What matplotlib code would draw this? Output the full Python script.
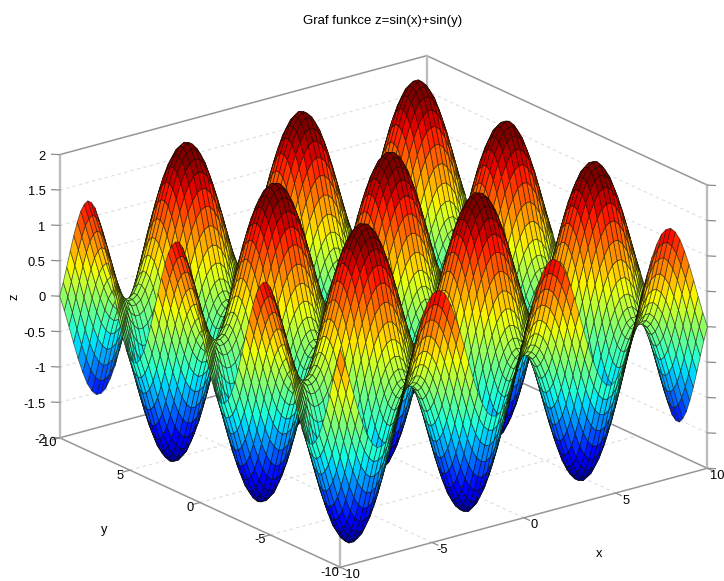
import numpy as np
import matplotlib
matplotlib.use('Agg')
import matplotlib.pyplot as plt
from mpl_toolkits.mplot3d import proj3d

plt.rcParams['font.family'] = ['Liberation Sans', 'DejaVu Sans']

# surface height along one edge, one value per mesh line from -10 to 10
grid_lines = [-10 + 0.25 * i for i in range(81)]
edge_profile = [
    0.54, 0.32, 0.08, -0.17, -0.41, -0.62, -0.80, -0.92, -0.99, -0.99,
    -0.94, -0.82, -0.66, -0.45, -0.22, 0.03, 0.28, 0.51, 0.71, 0.86,
    0.96, 1.00, 0.98, 0.90, 0.76, 0.57, 0.35, 0.11, -0.14, -0.38,
    -0.60, -0.78, -0.91, -0.98, -1.00, -0.95, -0.84, -0.68, -0.48, -0.25,
    0.00, 0.25, 0.48, 0.68, 0.84, 0.95, 1.00, 0.98, 0.91, 0.78,
    0.60, 0.38, 0.14, -0.11, -0.35, -0.57, -0.76, -0.90, -0.98, -1.00,
    -0.96, -0.86, -0.71, -0.51, -0.28, -0.03, 0.22, 0.45, 0.66, 0.82,
    0.94, 0.99, 0.99, 0.92, 0.80, 0.62, 0.41, 0.17, -0.08, -0.32,
    -0.54,
]
xy_ticks = [-10, -5, 0, 5, 10]
z_ticks = [-2, -1.5, -1, -0.5, 0, 0.5, 1, 1.5, 2]
z_tick_labels = ['-2', '-1.5', '-1', '-0.5', '0', '0.5', '1', '1.5', '2']

W, H = 724, 581
FS = 9.3
fig = plt.figure(figsize=(W / 100, H / 100), dpi=100)
ax = fig.add_axes([24.6 / W, -89.4 / H, 699 / W, 699 / H], projection='3d',
                  proj_type='ortho', computed_zorder=False)
ax.set_box_aspect((1, 1, 0.655))
ax.view_init(elev=20.65, azim=-127.4)
ax.set_xlim(-10, 10, view_margin=0)
ax.set_ylim(-10, 10, view_margin=0)
ax.set_zlim(-2, 2, view_margin=0)
ax.set_axis_off()


def label_at(x, y, z, s, **kw):
    u, v, _ = proj3d.proj_transform(x, y, z, ax.get_proj())
    ax.text2D(u, v, s, transform=ax.transData, fontsize=FS, va='center', **kw)


X, Y = np.meshgrid(grid_lines, grid_lines)
Z = np.add.outer(edge_profile, edge_profile)

# walls and floor grid, all behind the surface
grid_style = dict(color='#dddddd', lw=0.8, ls=(0, (3, 3)), zorder=1)
for t in xy_ticks[1:-1]:
    ax.plot([t, t], [-10, 10], [-2, -2], **grid_style)
    ax.plot([-10, 10], [t, t], [-2, -2], **grid_style)
for t in z_ticks[1:-1]:
    ax.plot([-10, 10], [10, 10], [t, t], **grid_style)
    ax.plot([10, 10], [-10, 10], [t, t], **grid_style)

# box edges
edge_style = dict(color='#969696', lw=1.1, zorder=1)
post_style = dict(color='#bdbdbd', lw=1.7, zorder=1)
for z in (-2, 2):
    ax.plot([-10, 10], [10, 10], [z, z], **edge_style)
    ax.plot([10, 10], [-10, 10], [z, z], **edge_style)
ax.plot([-10, 10], [-10, -10], [-2, -2], **edge_style)
ax.plot([-10, -10], [-10, 10], [-2, -2], **edge_style)
for px, py in [(-10, -10), (-10, 10), (10, -10), (10, 10)]:
    ax.plot([px, px], [py, py], [-2, 2], **post_style)

# tick marks and labels
tick_style = dict(color='#8c8c8c', lw=0.9, zorder=1)
for t in xy_ticks:
    ax.plot([t, t], [-10, -10.4], [-2, -2], **tick_style)
    ax.plot([-10, -10.4], [t, t], [-2, -2], **tick_style)
    label_at(t, -10.72, -2.04, str(t), ha='center')
    label_at(-10.55, t, -2.04, str(t), ha='center')
for t, lab in zip(z_ticks, z_tick_labels):
    ax.plot([-10, -10.25], [10, 10.25], [t, t], **tick_style)
    ax.plot([10, 10.25], [-10, -10.25], [t, t], **tick_style)
    label_at(-10.48, 10.37, t - 0.03, lab, ha='right')

ax.plot_surface(X, Y, Z.T, rstride=1, cstride=1, cmap='jet', vmin=-2, vmax=1.8,
                edgecolor=(0.05, 0.05, 0, 0.6), linewidth=0.55, shade=False, zorder=2)

fig.text(383 / W, 1 - 21 / H, 'Graf funkce z=sin(x)+sin(y)', fontsize=9.5,
         ha='center', va='center')
fig.text(599 / W, 1 - 554 / H, 'x', fontsize=FS, ha='center', va='center')
fig.text(104 / W, 1 - 530 / H, 'y', fontsize=FS, ha='center', va='center')
fig.text(14 / W, 1 - 297 / H, 'z', fontsize=FS, ha='center', va='center', rotation=90)

plt.savefig('out.png', dpi=100)
